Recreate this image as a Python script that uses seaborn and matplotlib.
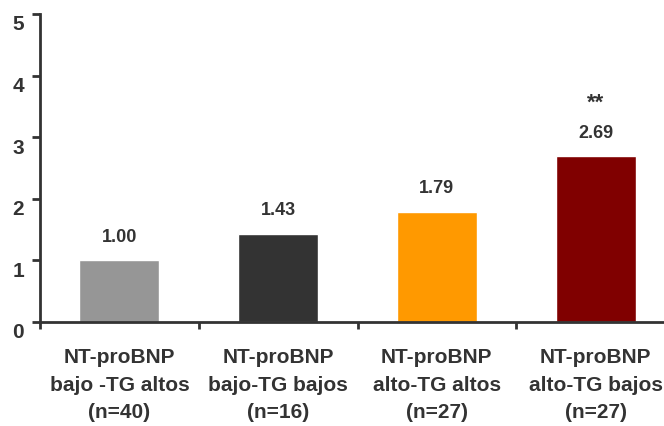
import matplotlib
matplotlib.use("Agg")
import matplotlib.pyplot as plt
import matplotlib.transforms as mtransforms
import numpy as np
import pandas as pd
import seaborn as sns

# Data
categories = [
    "NT-proBNP\nbajo -TG altos\n(n=40)",
    "NT-proBNP\nbajo-TG bajos\n(n=16)",
    "NT-proBNP\nalto-TG altos\n(n=27)",
    "NT-proBNP\nalto-TG bajos\n(n=27)",
]
values = [1.00, 1.43, 1.79, 2.69]
value_labels = ["1.00", "1.43", "1.79", "2.69"]
significance = ["", "", "", "**"]
bar_colors = ["#969696", "#333333", "#FF9900", "#800000"]
y_ticks = [0, 1, 2, 3, 4, 5]

sns.set_theme(style="white")
plt.rcParams["font.family"] = ["Liberation Sans", "DejaVu Sans"]
plt.rcParams["font.weight"] = "bold"

TEXT = "#333333"

fig = plt.figure(figsize=(6.64, 4.27), dpi=100)
ax = fig.add_axes([40 / 664, (427 - 322.7) / 427, 635 / 664, 307.7 / 427])

df = pd.DataFrame({"grupo": categories, "valor": values})
sns.barplot(data=df, x="grupo", y="valor", hue="grupo", palette=bar_colors,
            width=0.505, saturation=1, legend=False, ax=ax)

ax.set_xlim(-0.5, 3.5)
ax.set_ylim(0, 5)
ax.set_xlabel("")
ax.set_ylabel("")

for s in ["top", "right"]:
    ax.spines[s].set_visible(False)
for s in ["left", "bottom"]:
    ax.spines[s].set_color(TEXT)
    ax.spines[s].set_linewidth(2)

# y axis
ax.set_yticks(y_ticks)
ax.set_yticklabels([str(t) for t in y_ticks], fontsize=15, fontweight="bold", color=TEXT)
ax.tick_params(axis="y", direction="out", length=5.5, width=2, color=TEXT, pad=6, left=True)
offset = mtransforms.ScaledTranslation(0, -8 / 100, fig.dpi_scale_trans)
for lab in ax.get_yticklabels():
    lab.set_transform(lab.get_transform() + offset)

# x axis: boundary ticks, labels at centers
ax.set_xticks(range(len(categories)))
ax.set_xticklabels(categories, fontsize=15, fontweight="bold", color=TEXT, linespacing=1.55)
ax.set_xticks(np.arange(-0.5, len(categories), 1.0), minor=True)
ax.tick_params(axis="x", which="major", length=0, pad=18.5)
ax.tick_params(axis="x", which="minor", direction="out", length=5, width=2, color=TEXT, bottom=True)

# value labels and significance marks
for i, (v, lab, sig) in enumerate(zip(values, value_labels, significance)):
    ax.annotate(lab, (i, v), xytext=(0, 24), textcoords="offset pixels",
                ha="center", va="center", fontsize=13, fontweight="bold", color=TEXT)
    if sig:
        ax.annotate(sig, (i, v), xytext=(0, 54), textcoords="offset pixels",
                    ha="center", va="center", fontsize=16, fontweight="bold", color=TEXT)

fig.savefig("out.png", dpi=100)
